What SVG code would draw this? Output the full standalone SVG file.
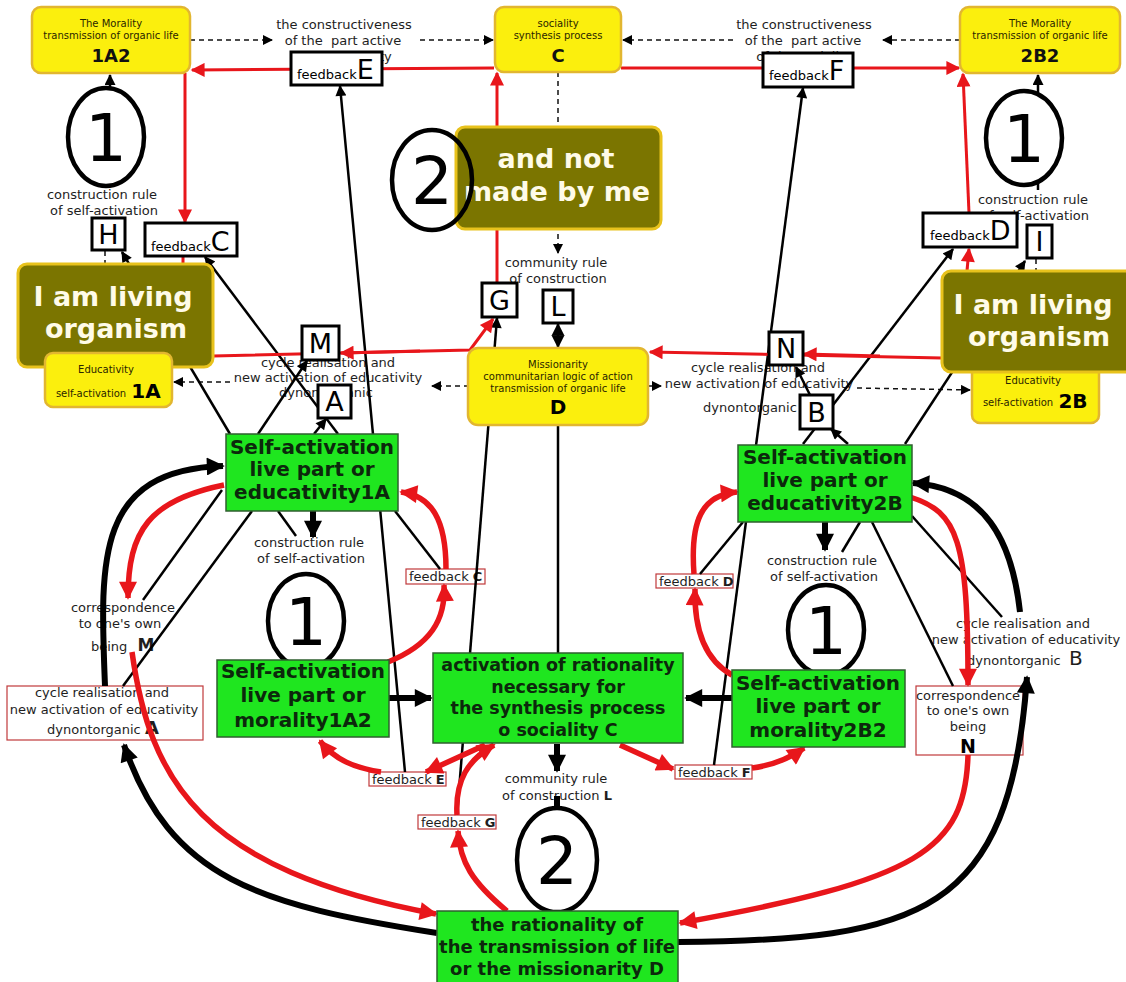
<svg xmlns="http://www.w3.org/2000/svg" width="1126" height="982" viewBox="0 0 1126 982">
<defs>
<style>
text{font-family:"DejaVu Sans",Verdana,"Liberation Sans",sans-serif;}
.lbl{font-size:13px;fill:#1e1e1e;text-anchor:middle}
.lbs{font-size:13px;fill:#1e1e1e}
.yb{fill:#fbef0d;stroke:#e2b630;stroke-width:2.5}
.yt{font-size:10px;fill:#2a2600;text-anchor:middle}
.yn{font-size:18px;font-weight:bold;fill:#111;text-anchor:middle}
.ob{fill:#7b7500;stroke:#e8c21c;stroke-width:3}
.ot{font-size:27px;font-weight:bold;fill:#fffbe8;text-anchor:middle}
.gb{fill:#1fe61f;stroke:#2f5f2f;stroke-width:1.5}
.gt{font-size:20px;font-weight:bold;fill:#0c280c;text-anchor:middle}
.wb{fill:#fff;stroke:#000;stroke-width:3}
.lt{font-size:27px;fill:#000;text-anchor:middle}
.rb{fill:#fff;stroke:#c0393b;stroke-width:1.2}
.el{fill:#fff;stroke:#000;stroke-width:4.5}
.num{font-size:66px;fill:#000;text-anchor:middle}
.thin{fill:none;stroke:#000;stroke-width:2.5}
.thick{fill:none;stroke:#000;stroke-width:6}
.red{fill:none;stroke:#e8161b;stroke-width:3}
.redw{fill:none;stroke:#e8161b;stroke-width:5.5}
.dash{fill:none;stroke:#111;stroke-width:1.5;stroke-dasharray:5 4}
</style>
<marker id="ak" viewBox="0 0 10 10" refX="9" refY="5" markerWidth="13" markerHeight="11" markerUnits="userSpaceOnUse" orient="auto"><path d="M0,0 L10,5 L0,10 z" fill="#000"/></marker>
<marker id="akb" viewBox="0 0 10 10" refX="9" refY="5" markerWidth="20" markerHeight="18" markerUnits="userSpaceOnUse" orient="auto"><path d="M0,0 L10,5 L0,10 z" fill="#000"/></marker>
<marker id="akm" viewBox="0 0 10 10" refX="9" refY="5" markerWidth="13" markerHeight="14" markerUnits="userSpaceOnUse" orient="auto"><path d="M0,0 L10,5 L0,10 z" fill="#000"/></marker>
<marker id="ad" viewBox="0 0 10 10" refX="9" refY="5" markerWidth="11" markerHeight="10" markerUnits="userSpaceOnUse" orient="auto"><path d="M0,0 L10,5 L0,10 z" fill="#000"/></marker>
<marker id="ar" viewBox="0 0 10 10" refX="9" refY="5" markerWidth="17" markerHeight="14" markerUnits="userSpaceOnUse" orient="auto"><path d="M0,0 L10,5 L0,10 z" fill="#e8161b"/></marker>
<marker id="arw" viewBox="0 0 10 10" refX="9" refY="5" markerWidth="21" markerHeight="18" markerUnits="userSpaceOnUse" orient="auto"><path d="M0,0 L10,5 L0,10 z" fill="#e8161b"/></marker>
</defs>
<rect width="1126" height="982" fill="#fff"/>

<!-- free labels -->
<g id="labels">
<text class="lbl" x="344" y="29">the constructiveness</text>
<text class="lbl" x="343" y="45">of the&#160; part active</text>
<text class="lbl" x="344" y="61">of the sociality</text>
<text class="lbl" x="804" y="29">the constructiveness</text>
<text class="lbl" x="803" y="45">of the&#160; part active</text>
<text class="lbl" x="804" y="61">of the sociality</text>
<text class="lbl" x="102" y="199">construction rule</text>
<text class="lbl" x="104" y="215">of self-activation</text>
<text class="lbl" x="1033" y="204">construction rule</text>
<text class="lbl" x="1035" y="220">of self-activation</text>
<text class="lbl" x="556" y="267">community rule</text>
<text class="lbl" x="558" y="283">of construction</text>
<text class="lbl" x="328" y="367">cycle realisation and</text>
<text class="lbl" x="328" y="382">new activation of educativity</text>
<text class="lbl" x="326" y="397">dynontorganic</text>
<text class="lbl" x="758" y="372">cycle realisation and</text>
<text class="lbl" x="759" y="388">new activation of educativity</text>
<text class="lbl" x="750" y="412">dynontorganic</text>
<text class="lbl" x="309" y="547">construction rule</text>
<text class="lbl" x="311" y="563">of self-activation</text>
<text class="lbl" x="822" y="565">construction rule</text>
<text class="lbl" x="824" y="581">of self-activation</text>
<text class="lbl" x="123" y="612">correspondence</text>
<text class="lbl" x="120" y="628">to one's own</text>
<text class="lbs" x="91" y="651">being <tspan font-weight="bold" font-size="17" dx="6">M</tspan></text>
<text class="lbl" x="1023" y="628">cycle realisation and</text>
<text class="lbl" x="1026" y="644">new activation of educativity</text>
<text class="lbs" x="967" y="665">dynontorganic <tspan font-size="20" dx="4">B</tspan></text>
<text class="lbl" x="556" y="783">community rule</text>
<text class="lbs" x="502" y="800">of construction <tspan font-weight="bold">L</tspan></text>
</g>

<!-- small labelled boxes sitting under the connectors -->
<g id="fbC-small"><rect class="rb" x="406" y="569" width="79" height="15"/><text class="lbs" x="409" y="581">feedback <tspan font-weight="bold">C</tspan></text></g>
<g id="fbD-small"><rect class="rb" x="656" y="574" width="77" height="14"/><text class="lbs" x="659" y="586">feedback <tspan font-weight="bold">D</tspan></text></g>
<g id="fbE-small"><rect class="rb" x="369" y="772" width="77" height="14"/><text class="lbs" x="372" y="784">feedback <tspan font-weight="bold">E</tspan></text></g>
<g id="fbF-small"><rect class="rb" x="675" y="765" width="77" height="14"/><text class="lbs" x="678" y="777">feedback <tspan font-weight="bold">F</tspan></text></g>
<g id="fbG-small"><rect class="rb" x="418" y="815" width="78" height="14"/><text class="lbs" x="421" y="827">feedback <tspan font-weight="bold">G</tspan></text></g>
<g id="cycleA">
<rect class="rb" x="7" y="686" width="196" height="54"/>
<text class="lbl" x="102" y="697">cycle realisation and</text>
<text class="lbl" x="104" y="714">new activation of educativity</text>
<text class="lbs" x="47" y="734">dynontorganic <tspan font-weight="bold" font-size="18">A</tspan></text>
</g>
<g id="corrN">
<rect class="rb" x="916" y="686" width="107" height="69"/>
<text class="lbl" x="968" y="700">correspondence</text>
<text class="lbl" x="968" y="715">to one's own</text>
<text class="lbl" x="968" y="731">being</text>
<text x="968" y="753" font-size="19" font-weight="bold" text-anchor="middle">N</text>
</g>

<!-- connectors -->
<g id="connectors">
<!-- dashed -->
<path class="dash" d="M190,40 L272,40" marker-end="url(#ad)"/>
<path class="dash" d="M420,40 L493,40" marker-end="url(#ad)"/>
<path class="dash" d="M733,40 L623,40" marker-end="url(#ad)"/>
<path class="dash" d="M960,40 L883,40" marker-end="url(#ad)"/>
<path class="dash" d="M558,72 L558,253" stroke="#555" marker-end="url(#ad)"/>
<path class="dash" d="M230,382 L174,382" marker-end="url(#ad)"/>
<path class="dash" d="M469,386 L432,386" marker-end="url(#ad)"/>
<path class="dash" d="M648,386 L661,386" marker-end="url(#ad)"/>
<path class="dash" d="M857,388 L970,390" marker-end="url(#ad)"/>
<path class="dash" d="M105,251 L105,264"/>
<path class="dash" d="M1036,259 L1036,271"/>
<!-- thin black -->
<path class="thin" stroke-width="1.5" d="M110,187 L110,75" marker-end="url(#ak)"/>
<path class="thin" stroke-width="1.5" d="M1038,190 L1038,75" marker-end="url(#ak)"/>
<path class="thin" d="M230,434 L122,252" marker-end="url(#ak)"/>
<path class="thin" d="M338,434 L205,257" marker-end="url(#ak)"/>
<path class="thin" d="M258,434 L307,361" marker-end="url(#ak)"/>
<path class="thin" d="M314,434 L326,419" marker-end="url(#ak)"/>
<path class="thin" d="M405,772 L340,86" marker-end="url(#ak)"/>
<path class="thin" d="M457,815 L497,318" marker-end="url(#ak)"/>
<path class="thin" d="M714,765 L803,88" marker-end="url(#ak)"/>
<path class="thin" d="M222,490 L143,600"/>
<path class="thin" d="M252,511 L123,686"/>
<path class="thin" d="M278,511 L296,536"/>
<path class="thin" d="M395,511 L440,569"/>
<path class="thin" d="M558,425 L558,653"/>
<path class="thin" d="M743,522 L700,574"/>
<path class="thin" d="M860,522 L842,552"/>
<path class="thin" d="M872,522 L953,686"/>
<path class="thin" d="M912,516 L1002,617"/>
<path class="thin" d="M803,444 L953,249" marker-end="url(#ak)"/>
<path class="thin" d="M905,444 L1025,261" marker-end="url(#ak)"/>
<path class="thin" d="M848,444 L831,429" marker-end="url(#ak)"/>
<path class="thin" d="M810,395 L796,367" marker-end="url(#ak)"/>
<!-- thick black -->
<path class="thick" d="M313,511 L313,537" marker-end="url(#akb)"/>
<path class="thick" d="M825,522 L825,550" marker-end="url(#akb)"/>
<path class="thick" d="M557,744 L557,771" marker-end="url(#akb)"/>
<path class="thick" d="M389,698 L431,698" marker-end="url(#akb)"/>
<path class="thick" d="M732,698 L686,698" marker-end="url(#akb)"/>
<path class="thin" stroke-width="4" d="M558,335 L558,324" marker-end="url(#akm)"/>
<path class="thin" stroke-width="4" d="M558,335 L558,347" marker-end="url(#akm)"/>
<path class="thick" stroke-width="5" d="M557,796 L557,810"/>
<path class="thick" d="M105,686 C100,560 95,470 223,466" marker-end="url(#akb)"/>
<path class="thick" d="M437,933 C260,905 170,880 124,745" marker-end="url(#akb)"/>
<path class="thick" d="M1020,612 C1012,540 985,488 913,483" marker-end="url(#akb)"/>
<path class="thick" d="M678,942 C920,940 1010,915 1027,677" marker-end="url(#akb)"/>
<!-- red straight -->
<path class="red" d="M494,68 L192,70" marker-end="url(#ar)"/>
<path class="red" d="M185,73 L185,222" marker-end="url(#ar)"/>
<path class="red" d="M183,256 L183,265"/>
<path class="red" d="M497,283 L497,73" marker-end="url(#ar)"/>
<path class="red" d="M621,68 L959,68" marker-end="url(#ar)"/>
<path class="red" d="M967,271 L969,249" marker-end="url(#ar)"/>
<path class="red" d="M969,213 L963,74" marker-end="url(#ar)"/>
<path class="red" d="M213,356 L470,350 L493,319" marker-end="url(#ar)"/>
<path class="red" d="M420,351 L341,353" marker-end="url(#ar)"/>
<path class="red" d="M942,358 L650,352" marker-end="url(#ar)"/>
<path class="red" d="M880,356 L804,354" marker-end="url(#ar)"/>
<!-- red curved -->
<path class="redw" d="M224,485 C150,500 128,530 128,598" marker-end="url(#arw)"/>
<path class="redw" d="M446,569 C446,520 432,496 401,492" marker-end="url(#arw)"/>
<path class="redw" d="M388,662 C430,645 446,620 444,585" marker-end="url(#arw)"/>
<path class="redw" d="M732,675 C705,660 694,630 695,589" marker-end="url(#arw)"/>
<path class="redw" d="M694,574 C690,520 702,495 737,492" marker-end="url(#arw)"/>
<path class="redw" d="M910,497 C958,512 968,540 968,685" marker-end="url(#arw)"/>
<path class="redw" d="M132,652 C150,780 200,870 436,914" marker-end="url(#arw)"/>
<path class="redw" d="M968,755 C965,850 920,880 680,923" marker-end="url(#arw)"/>
<path class="redw" d="M507,911 C472,882 460,862 458,831" marker-end="url(#arw)"/>
<path class="redw" d="M485,745 L426,772" marker-end="url(#arw)"/>
<path class="redw" d="M381,772 C355,768 335,760 320,741" marker-end="url(#arw)"/>
<path class="redw" d="M457,815 C455,780 468,760 494,745" marker-end="url(#arw)"/>
<path class="redw" d="M620,745 L673,769" marker-end="url(#arw)"/>
<path class="redw" d="M752,768 C775,765 790,758 804,748" marker-end="url(#arw)"/>
</g>

<!-- yellow and olive nodes -->
<g id="n2B"><rect class="yb" x="972" y="356" width="127" height="67" rx="8"/>
<text class="yt" x="1033" y="384">Educativity</text>
<text class="yt" x="1018" y="406">self-activation</text><text x="1073" y="408" font-size="20" font-weight="bold" text-anchor="middle">2B</text></g>
<g id="olive-left"><rect class="ob" x="18" y="264" width="195" height="103" rx="9"/>
<text class="ot" x="113" y="306">I am living</text><text class="ot" x="116" y="338">organism</text></g>
<g id="olive-center"><rect class="ob" x="456" y="127" width="205" height="102" rx="9"/>
<text class="ot" x="556" y="168">and not</text><text class="ot" x="557" y="201">made by me</text></g>
<g id="olive-right"><rect class="ob" x="942" y="271" width="192" height="101" rx="9"/>
<text class="ot" x="1033" y="314">I am living</text><text class="ot" x="1039" y="346">organism</text></g>
<g id="n1A"><rect class="yb" x="45" y="353" width="127" height="54" rx="8"/>
<text class="yt" x="106" y="373">Educativity</text>
<text class="yt" x="91" y="397">self-activation</text><text x="146" y="398" font-size="20" font-weight="bold" text-anchor="middle">1A</text></g>
<g id="n1A2"><rect class="yb" x="32" y="7" width="158" height="66" rx="9"/>
<text class="yt" x="111" y="27">The Morality</text><text class="yt" x="111" y="39">transmission of organic life</text><text class="yn" x="111" y="62">1A2</text></g>
<g id="nC"><rect class="yb" x="495" y="7" width="126" height="65" rx="9"/>
<text class="yt" x="558" y="27">sociality</text><text class="yt" x="558" y="39">synthesis process</text><text class="yn" x="558" y="62">C</text></g>
<g id="n2B2"><rect class="yb" x="960" y="7" width="160" height="66" rx="9"/>
<text class="yt" x="1040" y="27">The Morality</text><text class="yt" x="1040" y="39">transmission of organic life</text><text class="yn" x="1040" y="62">2B2</text></g>
<g id="nD"><rect class="yb" x="468" y="348" width="180" height="77" rx="10"/>
<text class="yt" x="558" y="368">Missionarity</text><text class="yt" x="558" y="380">communitarian logic of action</text><text class="yt" x="558" y="392">transmission of organic life</text><text x="558" y="414" font-size="20" font-weight="bold" text-anchor="middle">D</text></g>

<!-- circled rule numbers -->
<g id="e1-top-left"><ellipse class="el" cx="106" cy="137" rx="38" ry="49"/><text class="num" x="106" y="161">1</text></g>
<g id="e2-center"><ellipse class="el" cx="432" cy="180" rx="40" ry="50" style="fill:none"/><text class="num" x="432" y="204">2</text></g>
<g id="e1-top-right"><ellipse class="el" cx="1024" cy="138" rx="38" ry="47"/><text class="num" x="1024" y="162">1</text></g>
<g id="e1-low-left"><ellipse class="el" cx="306" cy="621" rx="38" ry="47"/><text class="num" x="306" y="645">1</text></g>
<g id="e1-low-right"><ellipse class="el" cx="826" cy="630" rx="38" ry="45"/><text class="num" x="826" y="654">1</text></g>
<g id="e2-bottom"><ellipse class="el" cx="557" cy="860" rx="40" ry="52"/><text class="num" x="557" y="884">2</text></g>

<!-- green nodes -->
<g id="sa1A"><rect class="gb" x="226" y="434" width="172" height="77"/>
<text class="gt" x="312" y="454">Self-activation</text><text class="gt" x="312" y="476">live part or</text><text class="gt" x="312" y="499">educativity1A</text></g>
<g id="sa2B"><rect class="gb" x="738" y="445" width="174" height="77"/>
<text class="gt" x="825" y="464">Self-activation</text><text class="gt" x="825" y="487">live part or</text><text class="gt" x="825" y="510">educativity2B</text></g>
<g id="sa1A2"><rect class="gb" x="217" y="660" width="172" height="77"/>
<text class="gt" x="303" y="678">Self-activation</text><text class="gt" x="303" y="702">live part or</text><text class="gt" x="303" y="727">morality1A2</text></g>
<g id="sa2B2"><rect class="gb" x="732" y="670" width="173" height="77"/>
<text class="gt" x="818" y="690">Self-activation</text><text class="gt" x="818" y="713">live part or</text><text class="gt" x="818" y="737">morality2B2</text></g>
<g id="rationality"><rect class="gb" x="433" y="653" width="250" height="90"/>
<text class="gt" style="font-size:17.5px" x="558" y="671">activation of rationality</text>
<text class="gt" style="font-size:17.5px" x="558" y="693">necessary for</text>
<text class="gt" style="font-size:17.5px" x="558" y="714">the synthesis process</text>
<text class="gt" style="font-size:17.5px" x="558" y="736">o sociality C</text></g>
<g id="missionarity"><rect class="gb" x="437" y="911" width="241" height="76"/>
<text class="gt" style="font-size:18px" x="557" y="931">the rationality of</text>
<text class="gt" style="font-size:18px" x="557" y="953">the transmission of life</text>
<text class="gt" style="font-size:18px" x="557" y="975">or the missionarity D</text></g>

<!-- lettered boxes -->
<g id="fbE"><rect class="wb" x="291" y="52" width="91" height="33"/><text x="297" y="79"><tspan font-size="13">feedback</tspan><tspan font-size="27">E</tspan></text></g>
<g id="fbF"><rect class="wb" x="763" y="53" width="90" height="34"/><text x="769" y="80"><tspan font-size="13">feedback</tspan><tspan font-size="27">F</tspan></text></g>
<g id="fbC"><rect class="wb" x="145" y="223" width="92" height="33"/><text x="151" y="251"><tspan font-size="13">feedback</tspan><tspan font-size="27">C</tspan></text></g>
<g id="fbD"><rect class="wb" x="923" y="213" width="94" height="34"/><text x="930" y="240"><tspan font-size="13">feedback</tspan><tspan font-size="27">D</tspan></text></g>
<g id="bH"><rect class="wb" x="92" y="218" width="33" height="32"/><text class="lt" x="108.5" y="244">H</text></g>
<g id="bI"><rect class="wb" x="1027" y="225" width="25" height="33"/><text class="lt" x="1039.5" y="251">I</text></g>
<g id="bM"><rect class="wb" x="302" y="326" width="37" height="34"/><text class="lt" x="320.5" y="353">M</text></g>
<g id="bA"><rect class="wb" x="318" y="385" width="33" height="33"/><text class="lt" x="334.5" y="411">A</text></g>
<g id="bG"><rect class="wb" x="482" y="283" width="35" height="34"/><text class="lt" x="499.5" y="310">G</text></g>
<g id="bL"><rect class="wb" x="543" y="290" width="30" height="33"/><text class="lt" x="558" y="316">L</text></g>
<g id="bN"><rect class="wb" x="769" y="332" width="34" height="33"/><text class="lt" x="786" y="358">N</text></g>
<g id="bB"><rect class="wb" x="800" y="395" width="33" height="34"/><text class="lt" x="816.5" y="422">B</text></g>
</svg>
